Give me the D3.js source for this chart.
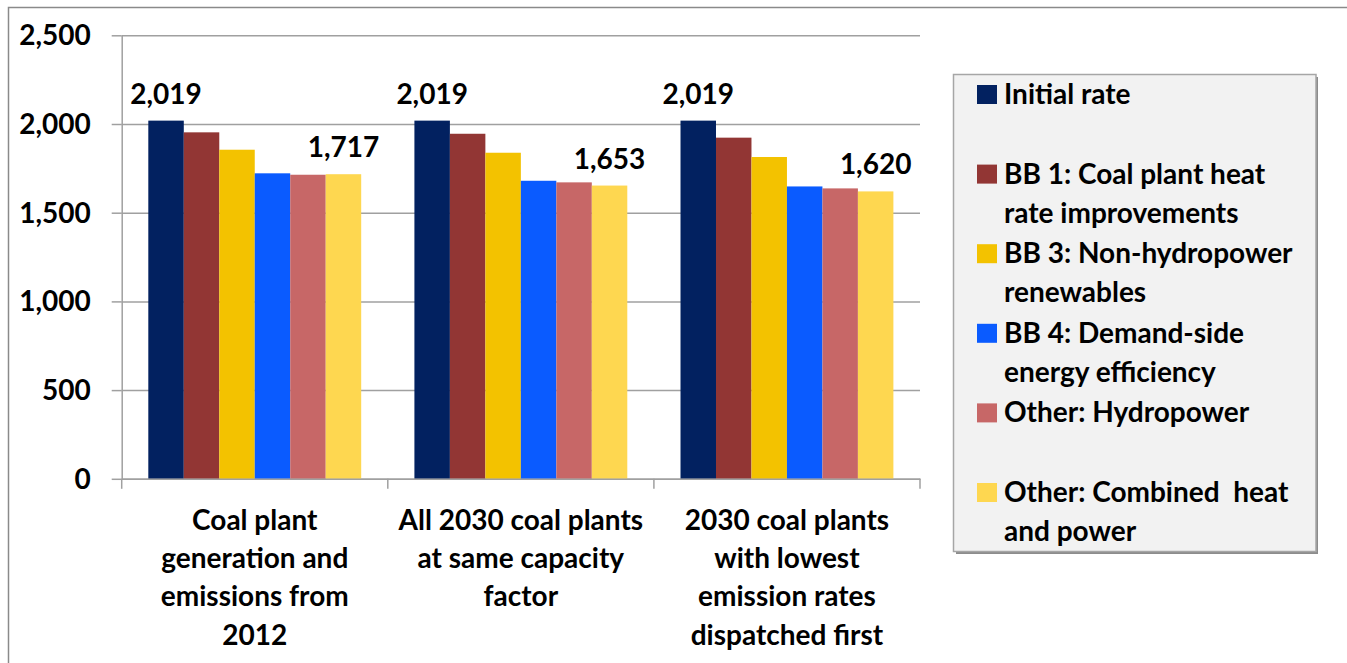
<!DOCTYPE html>
<html>
<head>
<meta charset="utf-8">
<script src="https://cdn.jsdelivr.net/npm/d3@7"></script>
<style>
  html, body { margin: 0; padding: 0; background: #fff; }
  svg { display: block; }
  text { font-family: Lato, "Open Sans", sans-serif; font-weight: bold; fill: #000; }
</style>
</head>
<body>
<svg id="chart" width="1347" height="663"></svg>
<script>
// ---- data ----
const categories = [
  "Coal plant generation and emissions from 2012",
  "All 2030 coal plants at same capacity factor",
  "2030 coal plants with lowest emission rates dispatched first"
];
const categoryLines = [
  ["Coal plant", "generation and", "emissions from", "2012"],
  ["All 2030 coal plants", "at same capacity", "factor"],
  ["2030 coal plants", "with lowest", "emission rates", "dispatched first"]
];
const seriesNames = [
  "Initial rate",
  "BB 1: Coal plant heat rate improvements",
  "BB 3: Non-hydropower renewables",
  "BB 4: Demand-side energy efficiency",
  "Other: Hydropower",
  "Other: Combined heat and power"
];
const seriesLines = [
  ["Initial rate"],
  ["BB 1: Coal plant heat", "rate improvements"],
  ["BB 3: Non-hydropower", "renewables"],
  ["BB 4: Demand-side", "energy efficiency"],
  ["Other: Hydropower"],
  ["Other: Combined  heat", "and power"]
];
const initialRate   = [2019, 2019, 2019];
const bb1HeatRate   = [1953, 1945, 1923];
const bb3Renewables = [1855, 1838, 1814];
const bb4Efficiency = [1722, 1680, 1648];
const otherHydro    = [1714, 1671, 1637];
const otherCHP      = [1717, 1653, 1620];
const seriesValues = [initialRate, bb1HeatRate, bb3Renewables, bb4Efficiency, otherHydro, otherCHP];
const colors = ["#022160", "#923634", "#f3c200", "#0a5bff", "#c76767", "#fed750"];
const yTicks = [0, 500, 1000, 1500, 2000, 2500];
// data labels shown on first and last bar of each group
const labeledSeries = [0, 5];

// ---- layout ----
const svg = d3.select("#chart");
const FS = 28;

// outer border (top and left)
svg.append("path")
  .attr("d", "M8.5,663 L8.5,7.5 L1347,7.5")
  .attr("fill", "none").attr("stroke", "#8a8a8a").attr("stroke-width", 1.5);

const x0 = d3.scaleBand().domain(categories).range([121.7, 920]).paddingInner(0).paddingOuter(0);
const x1 = d3.scaleBand().domain(d3.range(seriesNames.length)).range([0, x0.bandwidth()])
  .paddingInner(0).paddingOuter(0.75);
const y = d3.scaleLinear().domain([0, 2500]).range([478.8, 35.3]);

// gridlines
const grid = svg.append("g")
  .attr("transform", "translate(121.7,0)")
  .call(d3.axisLeft(y).tickValues(yTicks).tickSize(-(920 - 121.7)).tickFormat(""));
grid.select(".domain").remove();
grid.selectAll(".tick line").attr("stroke", "#a0a0a0").attr("stroke-width", 1.5);

// y axis line with tick marks
const yAxis = svg.append("g")
  .attr("transform", "translate(121.7,0)")
  .call(d3.axisLeft(y).tickValues(yTicks).tickSize(10).tickSizeOuter(0).tickFormat(""));
yAxis.select(".domain").attr("stroke", "#a0a0a0").attr("stroke-width", 1.5);
yAxis.selectAll(".tick line").attr("stroke", "#a0a0a0").attr("stroke-width", 1.5);

// y tick labels
svg.append("g").selectAll("text")
  .data(yTicks).join("text")
  .attr("x", 90.7)
  .attr("y", d => y(d) + 10)
  .attr("text-anchor", "end")
  .attr("font-size", FS)
  .text(d => d3.format(",")(d));

// bars
const groups = svg.append("g").selectAll("g")
  .data(categories).join("g")
  .attr("transform", d => `translate(${x0(d)},0)`);

groups.selectAll("rect")
  .data((c, ci) => seriesValues.map((vals, si) => ({ si, v: vals[ci] })))
  .join("rect")
  .attr("x", d => x1(d.si))
  .attr("width", x1.bandwidth())
  .attr("y", d => y(d.v))
  .attr("height", d => y(0) - y(d.v))
  .attr("fill", d => colors[d.si]);

// data labels
groups.selectAll("text.lbl")
  .data((c, ci) => labeledSeries.map(si => ({ si, v: seriesValues[si][ci] })))
  .join("text")
  .attr("class", "lbl")
  .attr("x", d => x1(d.si) + x1.bandwidth() / 2)
  .attr("y", d => y(d.v) - 17)
  .attr("text-anchor", "middle")
  .attr("font-size", FS)
  .text(d => d3.format(",")(d.v));

// x axis line and category separators
const xAxis = svg.append("g")
  .attr("transform", `translate(0,${y(0)})`)
  .call(d3.axisBottom(x0).tickSize(0).tickFormat(""));
xAxis.select(".domain").attr("stroke", "#a0a0a0").attr("stroke-width", 1.5);
const seps = [x0.range()[0]].concat(categories.map(c => x0(c) + x0.bandwidth()));
svg.append("g").selectAll("line")
  .data(seps).join("line")
  .attr("x1", d => d).attr("x2", d => d)
  .attr("y1", y(0)).attr("y2", y(0) + 10)
  .attr("stroke", "#a0a0a0").attr("stroke-width", 1.5);

// category labels
const catG = svg.append("g").selectAll("text")
  .data(categories).join("text")
  .attr("text-anchor", "middle")
  .attr("font-size", FS)
  .attr("x", d => x0(d) + x0.bandwidth() / 2)
  .attr("y", y(0) + 51);
catG.selectAll("tspan")
  .data((d, i) => categoryLines[i].map(l => ({ l, x: x0(d) + x0.bandwidth() / 2 })))
  .join("tspan")
  .attr("x", d => d.x)
  .attr("dy", (d, i) => i === 0 ? 0 : 38.3)
  .text(d => d.l);

// legend
svg.append("rect")
  .attr("x", 956).attr("y", 77)
  .attr("width", 362).attr("height", 477)
  .attr("fill", "#8c8c8c");
svg.append("rect")
  .attr("x", 953.5).attr("y", 74.5)
  .attr("width", 362.5).attr("height", 477)
  .attr("fill", "#f2f2f2").attr("stroke", "#a6a6a6").attr("stroke-width", 1.5);

const leg = svg.append("g").selectAll("g")
  .data(seriesNames).join("g")
  .attr("transform", (d, i) => `translate(0,${104 + i * 79.6})`);
leg.append("rect")
  .attr("x", 977).attr("y", -19)
  .attr("width", 20).attr("height", 19)
  .attr("fill", (d, i) => colors[i]);
const legText = leg.append("text")
  .attr("x", 1004).attr("y", 0)
  .attr("font-size", FS);
legText.selectAll("tspan")
  .data((d, i) => seriesLines[i])
  .join("tspan")
  .attr("x", 1004)
  .attr("dy", (d, i) => i === 0 ? 0 : 39)
  .attr("xml:space", "preserve")
  .style("white-space", "pre")
  .text(d => d);
</script>
</body>
</html>
